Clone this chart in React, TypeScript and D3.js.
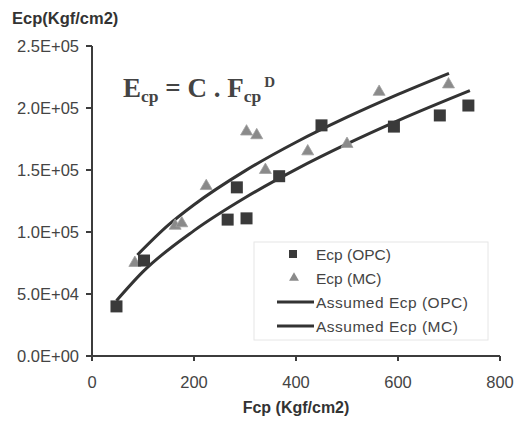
import React from 'react';
import * as d3 from 'd3';

// measured points
const opcFcp = [48, 102, 266, 284, 303, 367, 450, 592, 682, 738];
const opcEcp = [40000, 77000, 110000, 136000, 111000, 145000, 186000, 185000, 194000, 202000];
const mcFcp = [84, 163, 176, 224, 303, 323, 340, 423, 500, 563, 699];
const mcEcp = [75000, 105000, 107000, 137000, 181000, 178000, 150000, 165000, 171000, 213000, 219000];

// assumed curves
const curveMcFcp = [89, 150, 200, 300, 400, 500, 600, 700];
const curveMcEcp = [81500, 105700, 122000, 149300, 172400, 192600, 211000, 228000];
const curveOpcFcp = [48, 100, 200, 300, 400, 500, 600, 741];
const curveOpcEcp = [44600, 68000, 101100, 127600, 150500, 171000, 189800, 214000];

const xTicks = [0, 200, 400, 600, 800];
const yTicks = [0, 50000, 100000, 150000, 200000, 250000];

const legendItems = ['Ecp (OPC)', 'Ecp (MC)', 'Assumed Ecp (OPC)', 'Assumed Ecp (MC)'];

const W = 525;
const H = 423;

export default function App() {
  const x = d3.scaleLinear().domain([0, 800]).range([92, 500]);
  const y = d3.scaleLinear().domain([0, 250000]).range([356, 46]);

  const line = d3
    .line<[number, number]>()
    .x(d => x(d[0]))
    .y(d => y(d[1]))
    .curve(d3.curveMonotoneX);

  const upper = line(curveMcFcp.map((v, i) => [v, curveMcEcp[i]]));
  const lower = line(curveOpcFcp.map((v, i) => [v, curveOpcEcp[i]]));

  const tri = d3.symbol().type(d3.symbolTriangle).size(62)();
  const font = 'Arial, "Liberation Sans", sans-serif';
  const axisCol = '#3c3c3c';

  return (
    <svg width={W} height={H} style={{ position: 'absolute', left: 0, top: 0, background: '#fff' }}>
      <text x={12} y={24} fontFamily={font} fontSize={16.5} fontWeight="bold" fill="#333">
        Ecp(Kgf/cm2)
      </text>

      {/* y axis */}
      <line x1={x(0)} x2={x(0)} y1={y(250000)} y2={y(0)} stroke={axisCol} strokeWidth={2} />
      {yTicks.map(t => (
        <g key={t}>
          <line x1={x(0) - 6} x2={x(0)} y1={y(t)} y2={y(t)} stroke={axisCol} strokeWidth={2} />
          <text x={x(0) - 13} y={y(t)} dy="0.36em" textAnchor="end" fontFamily={font} fontSize={16.5} fill="#444">
            {t.toExponential(1).toUpperCase().replace('E+', 'E+0')}
          </text>
        </g>
      ))}

      {/* x axis */}
      <line x1={x(0)} x2={x(800)} y1={y(0)} y2={y(0)} stroke={axisCol} strokeWidth={2} />
      {xTicks.map(t => (
        <g key={t}>
          <line x1={x(t)} x2={x(t)} y1={y(0)} y2={y(0) + 5} stroke={axisCol} strokeWidth={2} />
          <text x={x(t)} y={y(0) + 32} textAnchor="middle" fontFamily={font} fontSize={16.5} fill="#444">
            {t}
          </text>
        </g>
      ))}
      <text x={296} y={413} textAnchor="middle" fontFamily={font} fontSize={16} fontWeight="bold" fill="#333">
        Fcp (Kgf/cm2)
      </text>

      {/* formula */}
      <text x={123} y={97} fontFamily='"Liberation Serif", "Times New Roman", serif' fontWeight="bold" fontSize={27} fill="#444">
        E<tspan fontSize={17.5} dy={5}>cp</tspan>
        <tspan dy={-5}> = C . F</tspan>
        <tspan fontSize={17.5} dy={5}>cp</tspan>
        <tspan fontSize={15} dx={3} dy={-15}>D</tspan>
      </text>

      {/* curves */}
      <path d={upper ?? ''} fill="none" stroke="#333" strokeWidth={3} />
      <path d={lower ?? ''} fill="none" stroke="#333" strokeWidth={3} />

      {/* points */}
      {mcFcp.map((v, i) => (
        <path key={'m' + i} d={tri ?? ''} transform={`translate(${x(v)},${y(mcEcp[i])})`} fill="#8a8a8a" stroke="#a0a0a0" strokeWidth={0.8} />
      ))}
      {opcFcp.map((v, i) => (
        <rect key={'o' + i} x={x(v) - 6} y={y(opcEcp[i]) - 6} width={12} height={12} fill="#3a3a3a" />
      ))}

      {/* legend */}
      <g fontFamily={font} fontSize={15.5} fill="#444">
        <rect x={254} y={242} width={234} height={98} fill="#fff" stroke="#e6e6e6" strokeWidth={1} />
        {legendItems.map((name, i) => {
          const cy = 254 + i * 24;
          return (
            <g key={name}>
              {i === 0 && <rect x={289} y={cy - 4} width={8} height={8} fill="#3a3a3a" />}
              {i === 1 && <path d={d3.symbol().type(d3.symbolTriangle).size(42)() ?? ''} transform={`translate(294,${cy})`} fill="#8a8a8a" />}
              {i >= 2 && <line x1={277} x2={314} y1={cy} y2={cy} stroke="#333" strokeWidth={3} />}
              <text x={316} y={cy} dy="0.36em" letterSpacing={i >= 2 ? 0.5 : 0}>{name}</text>
            </g>
          );
        })}
      </g>
    </svg>
  );
}
